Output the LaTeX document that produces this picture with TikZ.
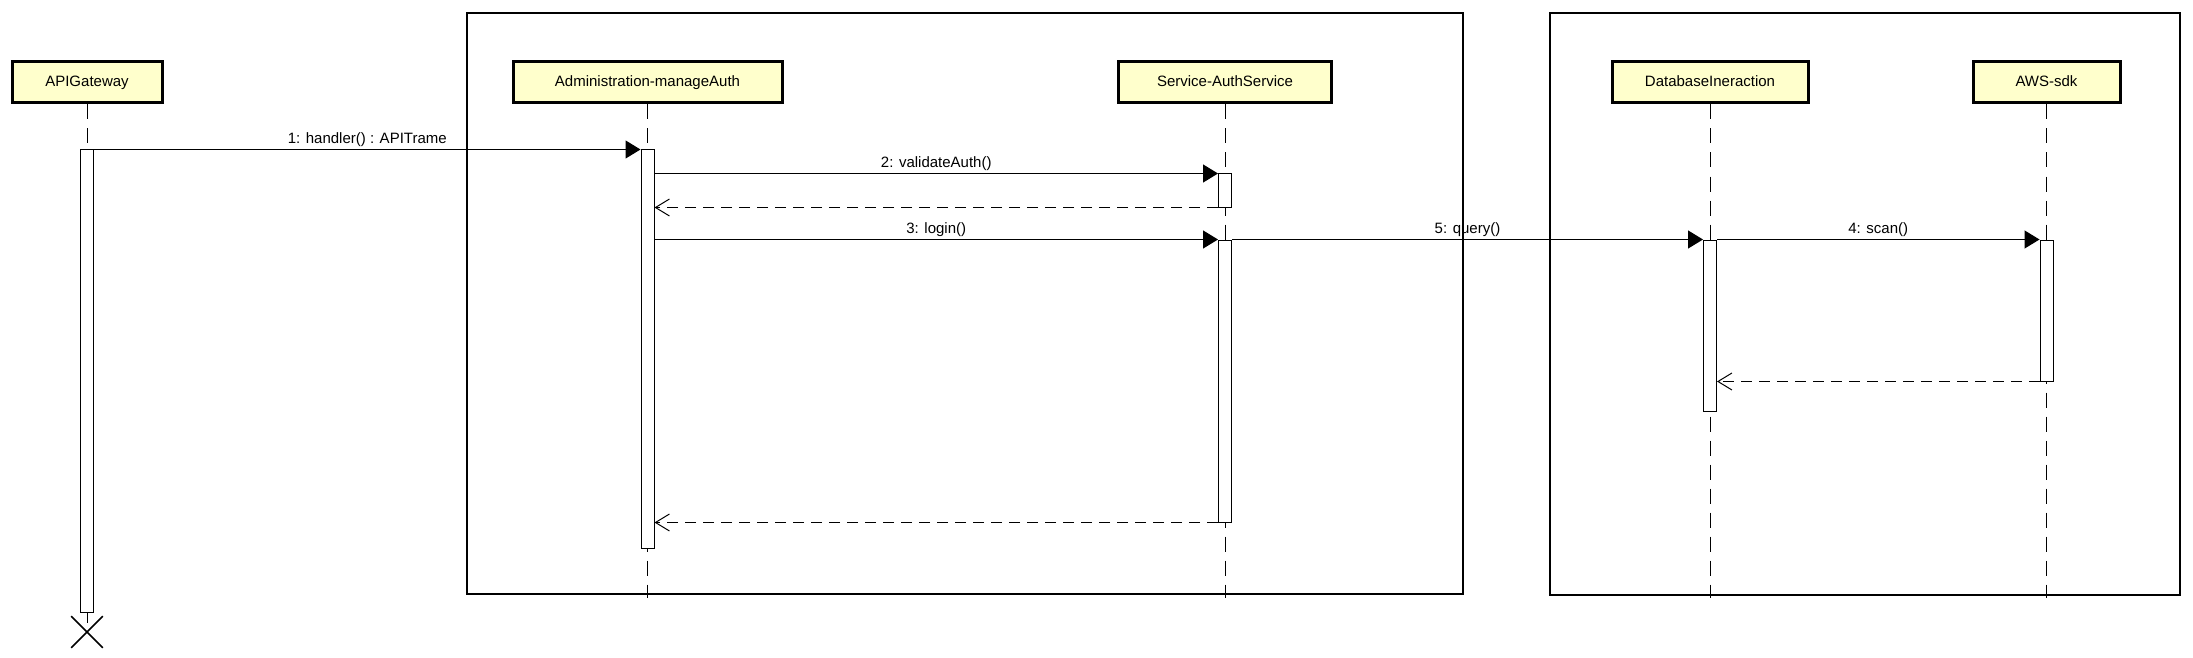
\documentclass[tikz,border=0pt]{standalone}
\usepackage{fontspec}
\setmainfont{Liberation Sans}
\usetikzlibrary{arrows.meta,shapes.misc}
\definecolor{boxfill}{RGB}{255,255,204}
\tikzset{
  actor/.style={draw, line width=3pt, fill=boxfill, minimum height=41pt, inner sep=0pt, text height=11pt, text depth=3pt, font=\fontsize{15}{18}\selectfont},
  framebox/.style={draw, line width=1.2pt, inner sep=0pt},
  actbar/.style={draw, line width=1pt, fill=white, minimum width=13pt, inner sep=0pt},
  lifeline/.style={line width=1pt, dash pattern=on 15pt off 9pt},
  msg/.style={line width=1.2pt, -{Triangle[length=15pt,width=18pt]}},
  ret/.style={line width=1.2pt, dash pattern=on 11pt off 7pt, -{Straight Barb[length=14pt,width=17pt,line width=1pt]}},
  lbl/.style={anchor=south, inner sep=2pt, font=\fontsize{15}{18}\selectfont}
}
\begin{document}
\begin{tikzpicture}[x=1pt,y=-1pt]
\useasboundingbox (0,0) rectangle (2193,658);
% frames
\node[framebox, minimum width=996pt, minimum height=581pt] (f1) at (965,303.5) {};
\node[framebox, minimum width=630pt, minimum height=582pt] (f2) at (1865,304) {};
% actors
\node[actor, minimum width=150pt] (api) at (87,82.5) {APIGateway};
\node[actor, minimum width=269pt] (adm) at (647.5,82.5) {Administration-manageAuth};
\node[actor, minimum width=213pt] (auth) at (1225,82.5) {Service-AuthService};
\node[actor, minimum width=196pt] (db) at (1710,82.5) {DatabaseIneraction};
\node[actor, minimum width=147pt] (aws) at (2046.5,82.5) {AWS-sdk};
\coordinate (bot) at (0,598);
% lifelines
\draw[lifeline] (api.south) -- (87,150);
\draw[lifeline] (adm.south) -- (adm.south |- bot);
\draw[lifeline] (auth.south) -- (auth.south |- bot);
\draw[lifeline] (db.south) -- (db.south |- bot);
\draw[lifeline] (aws.south) -- (aws.south |- bot);
% activation bars
\node[actbar, minimum height=462pt] (b1) at (87,381) {};
\node[actbar, minimum height=398pt] (b2) at (647.5,349) {};
\node[actbar, minimum height=33pt] (b3) at (1225,190.5) {};
\node[actbar, minimum height=282pt] (b4) at (1225,381) {};
\node[actbar, minimum height=171pt] (b5) at (1710,325.5) {};
\node[actbar, minimum height=141pt] (b6) at (2046.5,310.5) {};
% destruction
\draw[line width=1pt] (b1.south) -- ([yshift=-10pt]b1.south);
\node[draw, cross out, line width=1.6pt, minimum size=30pt, inner sep=0pt] (x1) at (87,632) {};
% messages
\draw[msg] (b1.north east) -- node[lbl] {1: handler() : APITrame} (b1.north east -| b2.west);
\draw[msg] (b2.east |- b3.north) -- node[lbl] {2: validateAuth()} (b3.north west);
\draw[ret] (b3.south west) -- (b2.east |- b3.south);
\draw[msg] (b2.east |- b4.north) -- node[lbl] {3: login()} (b4.north west);
\draw[msg] (b4.north east) -- node[lbl] {5: query()} (b4.north east -| b5.west);
\draw[msg] (b5.north east -| b5.east) -- node[lbl] {4: scan()} (b5.north east -| b6.west);
\draw[ret] (b6.south west) -- (b5.east |- b6.south);
\draw[ret] (b4.south west) -- (b2.east |- b4.south);
\end{tikzpicture}
\end{document}
